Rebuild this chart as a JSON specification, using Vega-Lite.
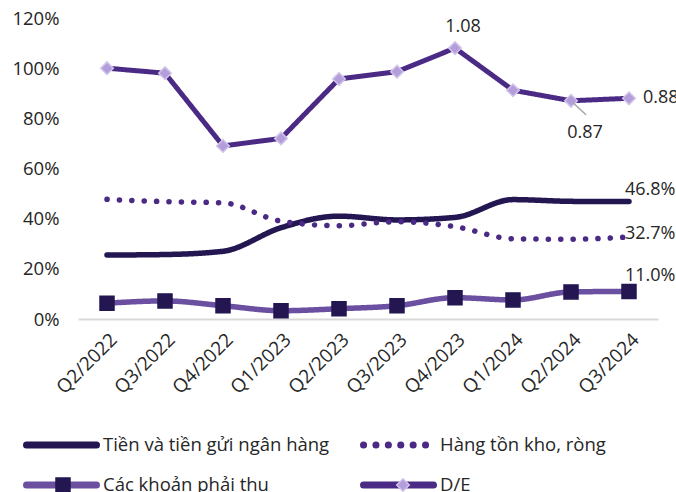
{
  "$schema": "https://vega.github.io/schema/vega-lite/v6.json",
  "width": 580,
  "height": 301,
  "autosize": {"type": "none"},
  "padding": {"left": 78, "top": 18, "right": 18, "bottom": 173},
  "background": "white",
  "config": {
    "view": {"stroke": null},
    "font": "Open Sans",
    "axis": {"labelFont": "Open Sans", "labelColor": "#262626", "grid": false, "ticks": false, "title": null},
    "legend": {"labelFont": "Open Sans", "labelColor": "#262626", "labelLimit": 0}
  },
  "data": {
    "values": [
      {"q": "Q2/2022", "series": "Tiền và tiền gửi ngân hàng", "value": 0.255},
      {"q": "Q3/2022", "series": "Tiền và tiền gửi ngân hàng", "value": 0.257},
      {"q": "Q4/2022", "series": "Tiền và tiền gửi ngân hàng", "value": 0.27},
      {"q": "Q1/2023", "series": "Tiền và tiền gửi ngân hàng", "value": 0.364},
      {"q": "Q2/2023", "series": "Tiền và tiền gửi ngân hàng", "value": 0.41},
      {"q": "Q3/2023", "series": "Tiền và tiền gửi ngân hàng", "value": 0.395},
      {"q": "Q4/2023", "series": "Tiền và tiền gửi ngân hàng", "value": 0.405},
      {"q": "Q1/2024", "series": "Tiền và tiền gửi ngân hàng", "value": 0.476},
      {"q": "Q2/2024", "series": "Tiền và tiền gửi ngân hàng", "value": 0.469},
      {"q": "Q3/2024", "series": "Tiền và tiền gửi ngân hàng", "value": 0.468},
      {"q": "Q2/2022", "series": "Hàng tồn kho, ròng", "value": 0.477},
      {"q": "Q3/2022", "series": "Hàng tồn kho, ròng", "value": 0.468},
      {"q": "Q4/2022", "series": "Hàng tồn kho, ròng", "value": 0.463},
      {"q": "Q1/2023", "series": "Hàng tồn kho, ròng", "value": 0.39},
      {"q": "Q2/2023", "series": "Hàng tồn kho, ròng", "value": 0.372},
      {"q": "Q3/2023", "series": "Hàng tồn kho, ròng", "value": 0.388},
      {"q": "Q4/2023", "series": "Hàng tồn kho, ròng", "value": 0.368},
      {"q": "Q1/2024", "series": "Hàng tồn kho, ròng", "value": 0.32},
      {"q": "Q2/2024", "series": "Hàng tồn kho, ròng", "value": 0.318},
      {"q": "Q3/2024", "series": "Hàng tồn kho, ròng", "value": 0.327},
      {"q": "Q2/2022", "series": "Các khoản phải thu", "value": 0.063},
      {"q": "Q3/2022", "series": "Các khoản phải thu", "value": 0.072},
      {"q": "Q4/2022", "series": "Các khoản phải thu", "value": 0.053},
      {"q": "Q1/2023", "series": "Các khoản phải thu", "value": 0.033},
      {"q": "Q2/2023", "series": "Các khoản phải thu", "value": 0.041},
      {"q": "Q3/2023", "series": "Các khoản phải thu", "value": 0.053},
      {"q": "Q4/2023", "series": "Các khoản phải thu", "value": 0.085},
      {"q": "Q1/2024", "series": "Các khoản phải thu", "value": 0.076},
      {"q": "Q2/2024", "series": "Các khoản phải thu", "value": 0.108},
      {"q": "Q3/2024", "series": "Các khoản phải thu", "value": 0.11},
      {"q": "Q2/2022", "series": "D/E", "value": 1.0},
      {"q": "Q3/2022", "series": "D/E", "value": 0.98},
      {"q": "Q4/2022", "series": "D/E", "value": 0.69},
      {"q": "Q1/2023", "series": "D/E", "value": 0.72},
      {"q": "Q2/2023", "series": "D/E", "value": 0.957},
      {"q": "Q3/2023", "series": "D/E", "value": 0.986},
      {"q": "Q4/2023", "series": "D/E", "value": 1.08},
      {"q": "Q1/2024", "series": "D/E", "value": 0.912},
      {"q": "Q2/2024", "series": "D/E", "value": 0.87},
      {"q": "Q3/2024", "series": "D/E", "value": 0.88}
    ]
  },
  "encoding": {
    "x": {
      "field": "q", "type": "ordinal", "sort": null,
      "scale": {"type": "point", "padding": 0.5},
      "axis": {"labelAngle": -45, "labelFontSize": 19, "labelPadding": 11, "domainColor": "#D9D9D9", "domainWidth": 2}
    },
    "y": {
      "field": "value", "type": "quantitative",
      "scale": {"domain": [0, 1.2], "nice": false, "zero": true},
      "axis": {"values": [0, 0.2, 0.4, 0.6, 0.8, 1.0, 1.2], "format": ".0%", "domain": false, "labelFontSize": 18.5, "labelPadding": 19}
    }
  },
  "layer": [
    {
      "mark": {"type": "line", "interpolate": "monotone", "strokeWidth": 5.5, "strokeCap": "round"},
      "encoding": {
        "color": {
          "field": "series", "type": "nominal",
          "scale": {
            "domain": ["Tiền và tiền gửi ngân hàng", "Hàng tồn kho, ròng", "Các khoản phải thu", "D/E"],
            "range": ["#231651", "#4B2A85", "#6B4FA0", "#4B2A85"]
          },
          "legend": {
            "title": null, "orient": "none", "legendX": -55, "legendY": 417, "direction": "horizontal",
            "columns": 2, "columnPadding": 30, "rowPadding": 20, "padding": 0,
            "symbolType": "stroke", "symbolSize": 4900, "symbolStrokeWidth": 7, "clipHeight": 20,
            "labelFontSize": 18.5, "labelOffset": 3,
            "encoding": {"symbols": {"strokeCap": {"value": "round"}}}
          }
        },
        "strokeDash": {
          "field": "series", "type": "nominal",
          "scale": {
            "domain": ["Tiền và tiền gửi ngân hàng", "Hàng tồn kho, ròng", "Các khoản phải thu", "D/E"],
            "range": [[1, 0], [0.1, 12.3], [1, 0], [1, 0]]
          },
          "legend": {
            "title": null, "orient": "none", "legendX": -55, "legendY": 417, "direction": "horizontal",
            "columns": 2, "columnPadding": 30, "rowPadding": 20, "padding": 0,
            "symbolType": "stroke", "symbolSize": 4900, "symbolStrokeWidth": 7, "clipHeight": 20,
            "labelFontSize": 18.5, "labelOffset": 3,
            "encoding": {"symbols": {"strokeCap": {"value": "round"}}}
          }
        },
        "opacity": {"condition": {"test": "datum.series === 'D/E'", "value": 0}, "value": 1}
      }
    },
    {
      "mark": {"type": "line", "interpolate": "linear", "strokeWidth": 5},
      "encoding": {
        "color": {"field": "series", "type": "nominal"},
        "strokeDash": {"field": "series", "type": "nominal"},
        "opacity": {"condition": {"test": "datum.series === 'D/E'", "value": 1}, "value": 0}
      }
    },
    {
      "mark": {"type": "point", "filled": true, "size": 196, "strokeWidth": 1.5, "opacity": 1},
      "encoding": {
        "shape": {
          "field": "series", "type": "nominal",
          "scale": {
            "domain": ["Tiền và tiền gửi ngân hàng", "Hàng tồn kho, ròng", "Các khoản phải thu", "D/E", " "],
            "range": ["circle", "circle", "square", "M0,-0.9L0.9,0L0,0.9L-0.9,0Z", "circle"]
          },
          "legend": {
            "title": null, "orient": "none", "legendX": -24.25, "legendY": 417, "direction": "horizontal",
            "columns": 2, "columnPadding": 30, "rowPadding": 20, "padding": 0,
            "symbolSize": 196, "clipHeight": 20,
            "labelFontSize": 18.5, "labelOffset": 64.5, "labelColor": "transparent"
          }
        },
        "fill": {
          "field": "series", "type": "nominal",
          "scale": {
            "domain": ["Tiền và tiền gửi ngân hàng", "Hàng tồn kho, ròng", "Các khoản phải thu", "D/E", " "],
            "range": ["transparent", "transparent", "#231651", "#B39DDB", "transparent"]
          }
        },
        "stroke": {
          "field": "series", "type": "nominal",
          "scale": {
            "domain": ["Tiền và tiền gửi ngân hàng", "Hàng tồn kho, ròng", "Các khoản phải thu", "D/E", " "],
            "range": ["transparent", "transparent", "#231651", "#D1C4E9", "transparent"]
          }
        }
      }
    },
    {
      "transform": [{"filter": "datum.series === 'D/E' && datum.q === 'Q2/2024'"}],
      "mark": {"type": "rule", "color": "#A6A6A6", "strokeWidth": 1.5, "xOffset": 2, "yOffset": 2, "x2Offset": 15, "y2Offset": 14},
      "encoding": {"x2": {"field": "q"}, "y2": {"field": "value"}}
    },
    {
      "transform": [{"filter": "datum.series === 'D/E' && datum.q === 'Q4/2023'"}],
      "mark": {"type": "text", "fontSize": 18, "font": "Open Sans", "color": "#262626", "dx": 8, "dy": -21, "align": "center", "baseline": "middle"},
      "encoding": {"text": {"field": "value", "type": "quantitative", "format": ".2f"}}
    },
    {
      "transform": [{"filter": "datum.series === 'D/E' && datum.q === 'Q2/2024'"}],
      "mark": {"type": "text", "fontSize": 18, "font": "Open Sans", "color": "#262626", "dx": 14, "dy": 32, "align": "center", "baseline": "middle"},
      "encoding": {"text": {"field": "value", "type": "quantitative", "format": ".2f"}}
    },
    {
      "transform": [{"filter": "datum.series === 'D/E' && datum.q === 'Q3/2024'"}],
      "mark": {"type": "text", "fontSize": 18, "font": "Open Sans", "color": "#262626", "dx": 14, "dy": 0, "align": "left", "baseline": "middle"},
      "encoding": {"text": {"field": "value", "type": "quantitative", "format": ".2f"}}
    },
    {
      "transform": [{"filter": "datum.series === 'Tiền và tiền gửi ngân hàng' && datum.q === 'Q3/2024'"}],
      "mark": {"type": "text", "fontSize": 18, "font": "Open Sans", "color": "#262626", "dx": -4, "dy": -12, "align": "left", "baseline": "middle"},
      "encoding": {"text": {"field": "value", "type": "quantitative", "format": ".1%"}}
    },
    {
      "transform": [{"filter": "datum.series === 'Hàng tồn kho, ròng' && datum.q === 'Q3/2024'"}],
      "mark": {"type": "text", "fontSize": 18, "font": "Open Sans", "color": "#262626", "dx": -4, "dy": -3, "align": "left", "baseline": "middle"},
      "encoding": {"text": {"field": "value", "type": "quantitative", "format": ".1%"}}
    },
    {
      "transform": [{"filter": "datum.series === 'Các khoản phải thu' && datum.q === 'Q3/2024'"}],
      "mark": {"type": "text", "fontSize": 18, "font": "Open Sans", "color": "#262626", "dx": -4, "dy": -15, "align": "left", "baseline": "middle"},
      "encoding": {"text": {"field": "value", "type": "quantitative", "format": ".1%"}}
    }
  ]
}
